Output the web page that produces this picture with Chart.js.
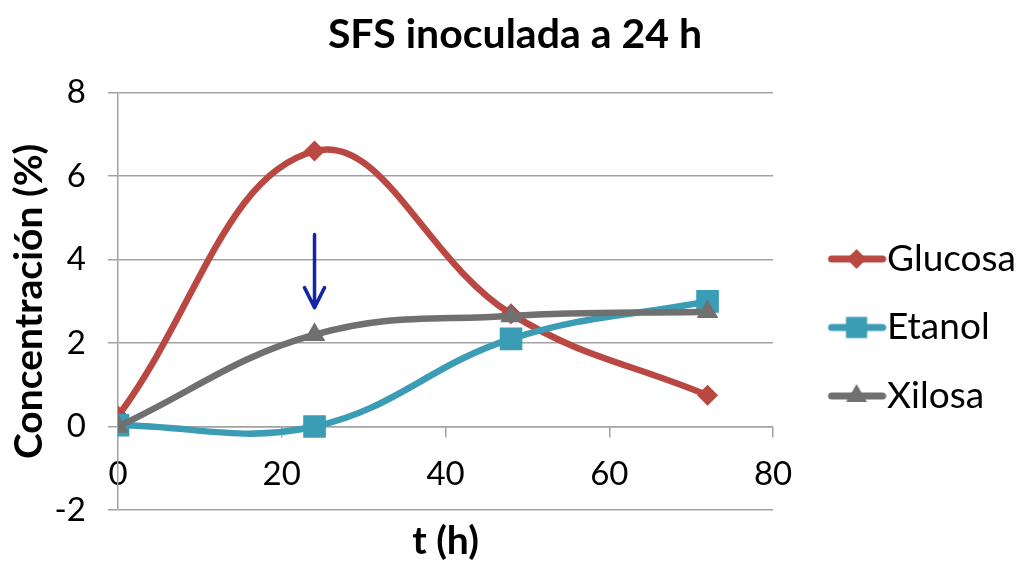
<!DOCTYPE html>
<html>
<head>
<meta charset="utf-8">
<script src="https://cdn.jsdelivr.net/npm/chart.js@4.4.1/dist/chart.umd.min.js"></script>
<style>
    html, body { margin: 0; padding: 0; background: #fff; }
    canvas { display: block; }
</style>
</head>
<body>
<canvas id="chart" width="1018" height="561"></canvas>
<script>
// Sampling times (h) and measured concentrations (%)
const timeHours = [0, 24, 48, 72];
const glucosa = [0.25, 6.6, 2.7, 0.75];
const etanol = [0.03, 0, 2.1, 3.0];
const xilosa = [0, 2.2, 2.65, 2.75];

const seriesNames = ["Glucosa", "Etanol", "Xilosa"];
const seriesColors = ["#BA4842", "#3B9CB5", "#707070"];
const seriesMarkers = ["rectRot", "rect", "triangle"];

// Inoculation arrow: [time, start value, tip value]
const arrowAt = [24, 4.6, 2.85];

const FONT = "Lato, 'Open Sans', sans-serif";
const GRID = "#a2a2a2";

// Turn the two parallel arrays into {x, y} points for a linear x scale
function toPoints(values) {
    return timeHours.map((t, i) => ({ x: t, y: values[i] }));
}

// Legend icon: short thick line with the series marker in the middle,
// drawn in the right part of a wider transparent canvas
function legendIcon(color, style, radius) {
    const c = document.createElement("canvas");
    c.width = 100;
    c.height = 34;
    const g = c.getContext("2d");
    g.strokeStyle = color;
    g.lineWidth = 7;
    g.lineCap = "round";
    g.beginPath();
    g.moveTo(45, 17);
    g.lineTo(96, 17);
    g.stroke();
    g.fillStyle = color;
    Chart.helpers.drawPoint(g, { pointStyle: style, radius: radius, borderWidth: 0, rotation: 0 }, 70, 17);
    return c;
}

// Draws the down arrow marking the inoculation time
const arrowPlugin = {
    id: "inoculationArrow",
    afterDatasetsDraw(chart) {
        const { ctx, scales } = chart;
        const x = scales.x.getPixelForValue(arrowAt[0]);
        const y0 = scales.y.getPixelForValue(arrowAt[1]);
        const y1 = scales.y.getPixelForValue(arrowAt[2]);
        ctx.save();
        ctx.strokeStyle = "#1327A6";
        ctx.lineWidth = 3.5;
        ctx.lineCap = "round";
        ctx.lineJoin = "round";
        ctx.beginPath();
        ctx.moveTo(x, y0);
        ctx.lineTo(x, y1 - 2);
        ctx.moveTo(x - 10, y1 - 20);
        ctx.lineTo(x, y1);
        ctx.lineTo(x + 10, y1 - 20);
        ctx.stroke();
        ctx.restore();
    }
};

const datasets = [glucosa, etanol, xilosa].map((values, i) => ({
    label: seriesNames[i],
    data: toPoints(values),
    xAxisID: "x",
    yAxisID: "y",
    borderColor: seriesColors[i],
    backgroundColor: seriesColors[i],
    borderWidth: 6.5,
    tension: 0.4,
    pointStyle: seriesMarkers[i],
    pointRadius: [10.5, 16, 12.5][i],
    pointBorderWidth: 0,
    order: 2 - i
}));

const icons = datasets.map((d, i) => legendIcon(seriesColors[i], seriesMarkers[i], [10, 15, 12][i]));

new Chart(document.getElementById("chart").getContext("2d"), {
    type: "line",
    data: { datasets: datasets },
    options: {
        responsive: false,
        animation: false,
        devicePixelRatio: 1,
        layout: { padding: { left: 4, right: -8, top: 0, bottom: 0 } },
        scales: {
            x: {
                type: "linear",
                position: { y: 0 },
                min: 0,
                max: 80,
                ticks: {
                    stepSize: 20,
                    padding: 18,
                    color: "#000",
                    font: { family: FONT, size: 33 }
                },
                grid: { color: GRID, lineWidth: 1.5, drawOnChartArea: false, drawTicks: true, tickLength: 10 },
                border: { color: GRID, width: 1.5 }
            },
            xTitle: {
                type: "linear",
                position: "bottom",
                min: 0,
                max: 80,
                ticks: { display: false },
                grid: { display: false, drawTicks: false },
                border: { display: false },
                title: {
                    display: true,
                    text: "t (h)",
                    color: "#000",
                    font: { family: FONT, size: 39, weight: "bold", lineHeight: 1.0 },
                    padding: { top: 12, bottom: 0 }
                }
            },
            y: {
                type: "linear",
                position: "left",
                min: -2,
                max: 8,
                // fixed axis width so the plot starts where the labels need it
                afterFit: (scale) => { scale.width = 114; },
                ticks: {
                    stepSize: 2,
                    padding: 22,
                    color: "#000",
                    font: { family: FONT, size: 33 }
                },
                grid: { color: GRID, lineWidth: 1.5, tickLength: 10 },
                border: { color: GRID, width: 1.5 },
                title: {
                    display: true,
                    text: "Concentración (%)",
                    color: "#000",
                    font: { family: FONT, size: 39, weight: "bold" },
                    padding: { top: 2, bottom: 2 }
                }
            }
        },
        plugins: {
            title: {
                display: true,
                text: "SFS inoculada a 24 h",
                color: "#000",
                font: { family: FONT, size: 41, weight: "bold" },
                padding: { top: 10, bottom: 33.5 }
            },
            legend: {
                position: "right",
                title: {
                    display: true,
                    text: " ",
                    font: { family: FONT, size: 10, lineHeight: 1.0 },
                    padding: { top: 84, bottom: 0 }
                },
                labels: {
                    usePointStyle: true,
                    pointStyleWidth: 64,
                    padding: 31.5,
                    color: "#000",
                    font: { family: FONT, size: 37 },
                    generateLabels: (chart) => chart.data.datasets.map((ds, i) => ({
                        text: ds.label,
                        pointStyle: icons[i],
                        datasetIndex: i,
                        hidden: false,
                        fontColor: "#000",
                        lineWidth: 0,
                        strokeStyle: "transparent",
                        fillStyle: "transparent"
                    }))
                }
            },
            tooltip: { enabled: false }
        }
    },
    plugins: [arrowPlugin]
});
</script>
</body>
</html>
